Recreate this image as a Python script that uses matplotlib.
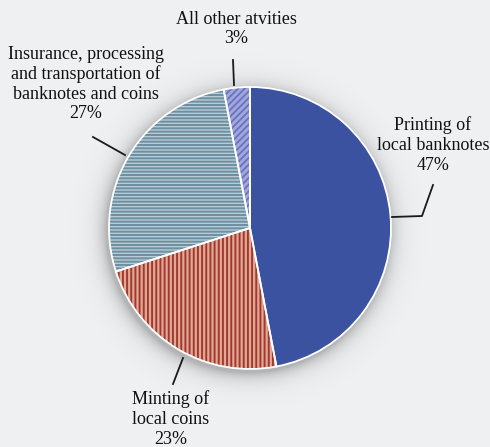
import numpy as np
import matplotlib.pyplot as plt

# share of costs by activity
labels = ["Printing of\nlocal banknotes", "Minting of\nlocal coins",
          "Insurance, processing\nand transportation of\nbanknotes and coins",
          "All other atvities"]
shares = [47, 23, 27, 3]

face_colors = ["#3b52a0", "#dcab98", "#b9cbd6", "#a3a8dc"]
hatch_colors = ["#3b52a0", "#a8362d", "#6c8fa1", "#6c75c2"]
hatches = [None, "||||", "-----", "/////"]

W, H = 490, 447
bg = "#eff0f2"
cx, cy, r = 250, H - 228, 141

plt.rcParams['font.family'] = ['Liberation Serif', 'DejaVu Serif']
fig = plt.figure(figsize=(W / 100, H / 100), dpi=100, facecolor=bg)
ax = fig.add_axes([0, 0, 1, 1])
ax.set_facecolor(bg)

# soft shadow around the pie
yy, xx = np.mgrid[0:H, 0:W]
d = np.hypot(xx - cx + 3, (H - yy) - cy + 3) - r
shade = np.where(d > 0, 0.4 * np.exp(-d / 8), 0.4)
rgba = np.zeros((H, W, 4))
rgba[..., :3] = 0.35
rgba[..., 3] = shade
ax.imshow(rgba, extent=(0, W, 0, H), origin="upper", zorder=0)

plt.rcParams['hatch.linewidth'] = 1.4
wedges, _ = ax.pie(shares, startangle=90, counterclock=False,
                   center=(cx, cy), radius=r, colors=face_colors,
                   wedgeprops=dict(linewidth=0))
for w, hc, h in zip(wedges, hatch_colors, hatches):
    w.set_zorder(2)
    if h:
        w.set_hatch(h)
        w.set_edgecolor(hc)
        w.set_linewidth(0)
# white borders drawn on top
ax.pie(shares, startangle=90, counterclock=False, center=(cx, cy), radius=r,
       colors=["none"] * 4,
       wedgeprops=dict(linewidth=1.3, edgecolor="white", zorder=3))

ax.set_xlim(0, W)
ax.set_ylim(0, H)
ax.set_aspect("equal")
ax.axis("off")

# labels with leader lines (pixel positions, y from top)
def lead(pts):
    xs = [p[0] for p in pts]
    ys = [H - p[1] for p in pts]
    ax.plot(xs, ys, color="#1a1a1a", lw=1.3, zorder=4)

def label(x, y, s):
    ax.text(x, H - y, s, ha="center", va="center", fontsize=13,
            color="#111111", linespacing=1.2, zorder=5)

label(433, 145, f"{labels[0]}\n{shares[0]}%")
lead([(392, 217), (422, 216), (433, 185)])

label(171, 419, f"{labels[1]}\n{shares[1]}%")
lead([(183, 358), (173, 384)])

label(86, 84, f"{labels[2]}\n{shares[2]}%")
lead([(93, 137), (125, 155)])

label(236, 29, f"{labels[3]}\n{shares[3]}%")
lead([(233, 60), (234, 85)])

fig.savefig("out.png", dpi=100, facecolor=bg)
